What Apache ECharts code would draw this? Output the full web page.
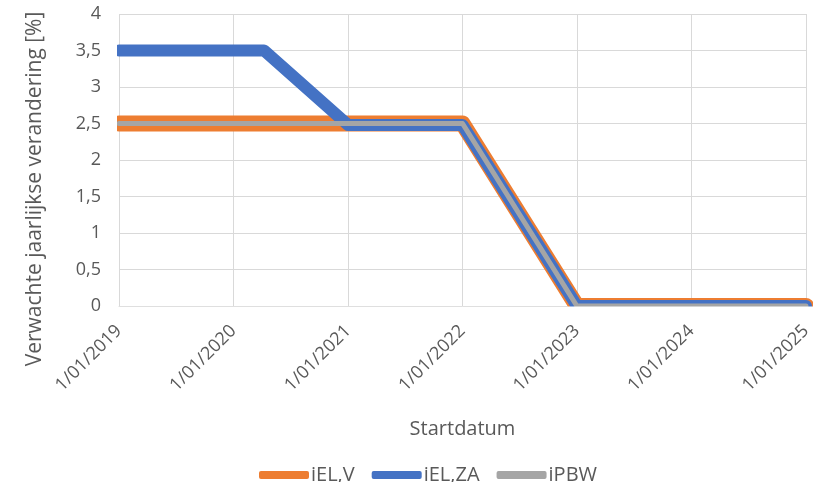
<!DOCTYPE html>
<html>
<head>
<meta charset="utf-8">
<script src="https://cdn.jsdelivr.net/npm/echarts@6/dist/echarts.min.js"></script>
<style>
  html, body { margin: 0; padding: 0; background: #fff; }
  #chart { width: 813px; height: 482px; }
</style>
</head>
<body>
<div id="chart"></div>
<script>
// data
var seriesNames = ['iEL,V', 'iEL,ZA', 'iPBW']
var ielVDates = ['2019-01-01', '2022-01-01', '2023-01-01', '2025-01-01']
var ielVValues = [2.5, 2.5, 0, 0]
var ielZaDates = ['2019-01-01', '2020-04-08', '2021-01-01', '2022-01-01', '2023-01-01', '2025-01-01']
var ielZaValues = [3.5, 3.5, 2.48, 2.48, 0, 0]
var ipbwDates = ['2019-01-01', '2022-01-01', '2023-01-01', '2025-01-01']
var ipbwValues = [2.5, 2.5, 0, 0]
var xMin = '2019-01-01'
var xMax = '2025-01-01'

var textColor = '#595959'
var gridColor = '#D9D9D9'
var font = '"Open Sans", sans-serif'

function pairs(dates, values) {
  return dates.map(function (d, i) { return [d, values[i]] })
}

function lineSeries(name, dates, values, color, width) {
  return {
    name: name,
    type: 'line',
    data: pairs(dates, values),
    showSymbol: false,
    symbol: 'none',
    itemStyle: { color: color },
    lineStyle: { color: color, width: width, cap: 'round', join: 'round' }
  }
}

var chart = echarts.init(document.getElementById('chart'))
chart.setOption({
  animation: false,
  grid: {
    left: 119,
    right: 7,
    top: 14,
    bottom: 176,
    containLabel: false,
    outerBoundsMode: 'none'
  },
  legend: {
    data: seriesNames,
    top: 460,
    left: 254,
    icon: 'roundRect',
    itemWidth: 50,
    itemHeight: 8,
    itemGap: 17,
    textStyle: { color: textColor, fontSize: 20, fontFamily: font, padding: [0, 0, 0, -3] }
  },
  xAxis: {
    type: 'time',
    min: xMin,
    max: xMax,
    minInterval: 365 * 24 * 3600 * 1000,
    maxInterval: 366 * 24 * 3600 * 1000,
    name: 'Startdatum',
    nameLocation: 'middle',
    nameGap: 113,
    nameTextStyle: { color: textColor, fontSize: 20, fontFamily: font },
    axisLine: { show: true, lineStyle: { color: '#BFBFBF', width: 1 } },
    axisTick: { show: false },
    axisLabel: {
      rotate: 45,
      color: textColor,
      fontSize: 18,
      fontFamily: font,
      margin: 22,
      formatter: '{d}/{MM}/{yyyy}',
      showMinLabel: true,
      showMaxLabel: true
    },
    splitLine: { show: true, lineStyle: { color: gridColor, width: 1 } }
  },
  yAxis: {
    type: 'value',
    min: 0,
    max: 4,
    interval: 0.5,
    name: 'Verwachte jaarlijkse verandering [%]',
    nameLocation: 'middle',
    nameGap: 73,
    nameTextStyle: { color: textColor, fontSize: 21, fontFamily: font, padding: [0, 58, 0, 0] },
    axisLine: { show: false },
    axisTick: { show: false },
    axisLabel: {
      color: textColor,
      fontSize: 18,
      fontFamily: font,
      margin: 18,
      formatter: function (v) { return String(v).replace('.', ',') }
    },
    splitLine: { show: true, lineStyle: { color: gridColor, width: 1 } }
  },
  series: [
    lineSeries(seriesNames[0], ielVDates, ielVValues, '#ED7D31', 16),
    lineSeries(seriesNames[1], ielZaDates, ielZaValues, '#4472C4', 12),
    lineSeries(seriesNames[2], ipbwDates, ipbwValues, '#A5A5A5', 5)
  ]
})

// the lines are cut at the bottom and left edge of the plot, like the original;
// echarts widens its clip by half a line width, so mask that strip in white
var origin = chart.convertToPixel({ gridIndex: 0 }, [xMin, 0])
var topLeft = chart.convertToPixel({ gridIndex: 0 }, [xMin, 4])
chart.setOption({
  graphic: [
    {
      type: 'rect',
      z: 100,
      shape: { x: origin[0] - 12, y: origin[1] + 0.5, width: 813, height: 9 },
      style: { fill: '#fff' }
    },
    {
      type: 'rect',
      z: 100,
      shape: { x: origin[0] - 12, y: topLeft[1], width: 10, height: origin[1] - topLeft[1] + 9 },
      style: { fill: '#fff' }
    }
  ]
})
</script>
</body>
</html>
